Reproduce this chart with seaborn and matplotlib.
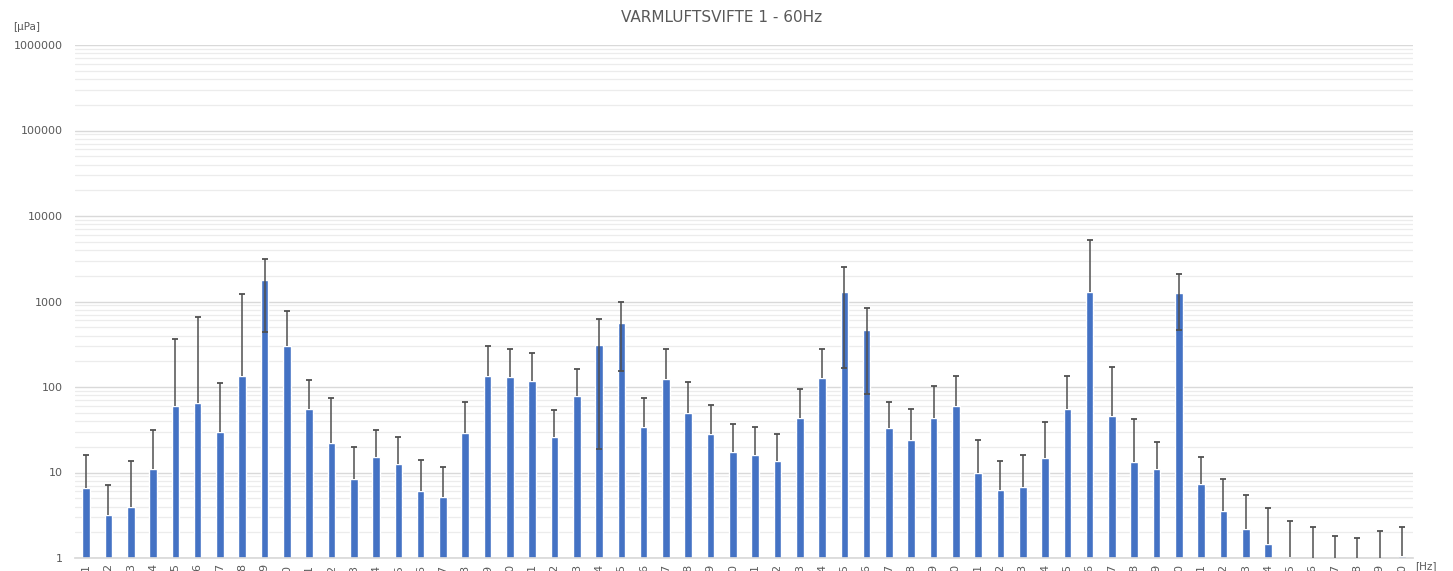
import numpy as np
import pandas as pd
import matplotlib
matplotlib.use("Agg")
import matplotlib.pyplot as plt
import seaborn as sns
from matplotlib.ticker import FixedLocator, FixedFormatter, NullFormatter

categories = [str(i) for i in range(1, 61)]
values = [6.6, 3.2, 4.0, 11, 60, 65, 30, 135, 1784, 302,
          55, 22, 8.4, 15.2, 12.6, 6.1, 5.2, 29, 135, 131,
          118, 26, 78, 310, 565, 34, 124, 50, 28, 17.4,
          16, 13.6, 43.5, 128, 1302, 464, 33, 24, 43.5, 60,
          10, 6.2, 6.7, 14.8, 55, 1302, 46, 13.3, 11, 1268,
          7.4, 3.55, 2.2, 1.46, 1.02, 0.9, 0.8, 0.7, 0.85, 1.05]
upper = [16, 7.1, 13.6, 31, 365, 650, 112, 1220, 3140, 775,
         120, 74, 20, 31, 26, 14, 11.6, 67, 302, 277,
         250, 54, 163, 620, 986, 74, 277, 114, 62, 37,
         34, 28, 95, 277, 2512, 847, 67, 55, 103, 135,
         24, 13.6, 16, 39, 135, 5250, 170, 42, 23, 2080,
         15.2, 8.4, 5.5, 3.8, 2.7, 2.3, 1.82, 1.7, 2.07, 2.3]
# lower ends of the error bars where they are visible (nan = below zero, not drawn)
nan = float("nan")
lower = [nan] * 60
lower[8] = 444
lower[23] = 18.7
lower[24] = 155
lower[34] = 168
lower[35] = 83
lower[49] = 460

y_ticks = [1, 10, 100, 1000, 10000, 100000, 1000000]
y_tick_labels = ["1", "10", "100", "1000", "10000", "100000", "1000000"]

x = np.arange(len(values))
vals = np.array(values)
up = np.array(upper)
lo = np.array(lower)
err_up = up - vals
err_lo = np.where(np.isnan(lo), 0, vals - np.nan_to_num(lo))

df = pd.DataFrame({"cat": categories, "val": values})

sns.set_theme(style="white")
plt.rcParams['font.family'] = ['DejaVu Sans']

fig = plt.figure(figsize=(14.53, 5.71), dpi=100)
ax = fig.add_axes([75/1453, 1 - 558/571, (1413-75)/1453, (558-45)/571])

sns.barplot(data=df, x="cat", y="val", color="#4472C4", saturation=1,
            width=0.34, errorbar=None, ax=ax, zorder=2)
ax.set_yscale("log")
ecol = "#505050"
ax.errorbar(x, vals, yerr=[err_lo, err_up], fmt="none",
            ecolor=ecol, elinewidth=1.1, capsize=0, zorder=3)
ax.plot(x, up, linestyle="none", marker="_", markersize=5, markeredgewidth=1.3,
        color=ecol, zorder=4)
has_lo = ~np.isnan(lo)
ax.plot(x[has_lo], lo[has_lo], linestyle="none", marker="_", markersize=5,
        markeredgewidth=1.3, color=ecol, zorder=4)

ax.set_ylim(1, 1000000)
ax.set_xlim(-0.5, len(values) - 0.5)
ax.yaxis.set_major_locator(FixedLocator(y_ticks))
ax.yaxis.set_major_formatter(FixedFormatter(y_tick_labels))
minors = [m * 10**d for d in range(0, 6) for m in range(2, 10)]
ax.yaxis.set_minor_locator(FixedLocator(minors))
ax.yaxis.set_minor_formatter(NullFormatter())
ax.grid(True, which="major", axis="y", color="#d9d9d9", linewidth=1.0, zorder=0)
ax.grid(True, which="minor", axis="y", color="#ececec", linewidth=0.9, zorder=0)
ax.set_axisbelow(True)

for s in ["top", "right", "left"]:
    ax.spines[s].set_visible(False)
ax.spines["bottom"].set_color("#d9d9d9")

ax.tick_params(axis="y", which="both", length=0, labelsize=8, labelcolor="#595959", pad=8.5)
ax.tick_params(axis="x", length=0, labelsize=8, labelcolor="#595959", pad=4)
ax.set_xticks(range(len(categories)))
ax.set_xticklabels(categories, rotation=90)
ax.set_xlabel("")
ax.set_ylabel("")

fig.text(722/1453, 1 - 17/571, "VARMLUFTSVIFTE 1 - 60Hz", ha="center", va="center",
         fontsize=11, color="#595959")
fig.text(13/1453, 1 - 27/571, "[µPa]", ha="left", va="center", fontsize=7.5, color="#595959")
fig.text(1415/1453, 1 - 566/571, "[Hz]", ha="left", va="center", fontsize=7.5, color="#595959")

fig.savefig("out.png", dpi=100)
